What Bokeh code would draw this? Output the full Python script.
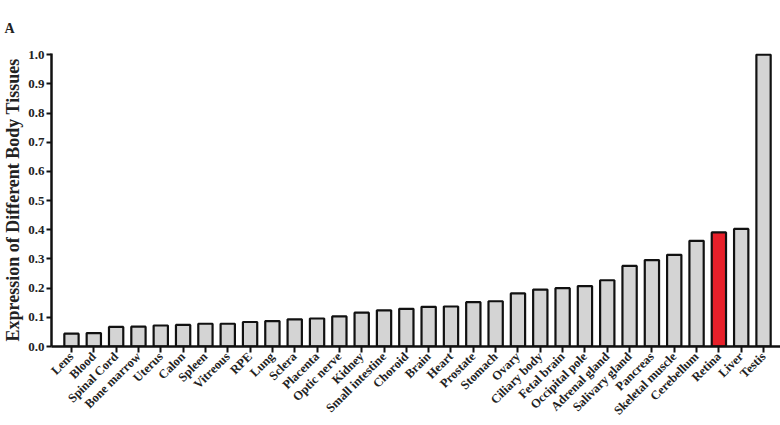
import math
from bokeh.plotting import figure
from bokeh.models import ColumnDataSource, Range1d, FixedTicker
from bokeh.embed import file_html
from bokeh.resources import INLINE

tissues = ["Lens", "Blood", "Spinal Cord", "Bone marrow", "Uterus", "Calon", "Spleen",
           "Vitreous", "RPE", "Lung", "Sclera", "Placenta", "Optic nerve", "Kidney",
           "Small intestine", "Choroid", "Brain", "Heart", "Prostate", "Stomach", "Ovary",
           "Ciliary body", "Fetal brain", "Occipital pole", "Adrenal gland", "Salivary gland",
           "Pancreas", "Skeletal muscle", "Cerebellum", "Retina", "Liver", "Testis"]
expression = [0.044, 0.046, 0.067, 0.068, 0.072, 0.074, 0.078,
              0.078, 0.084, 0.087, 0.093, 0.096, 0.103, 0.116,
              0.124, 0.129, 0.136, 0.137, 0.152, 0.155, 0.182,
              0.195, 0.200, 0.207, 0.227, 0.276,
              0.296, 0.314, 0.362, 0.391, 0.403, 1.0]
highlight = "Retina"
y_ticks = [0.0, 0.1, 0.2, 0.3, 0.4, 0.5, 0.6, 0.7, 0.8, 0.9, 1.0]

FONT = "Liberation Serif"
xs = list(range(len(tissues)))
colors = ["#e8202a" if t == highlight else "#d4d4d4" for t in tissues]
src = ColumnDataSource(dict(x=xs, top=expression, color=colors))

p = figure(width=780, height=425, output_backend="svg", toolbar_location=None,
           title="A",
           x_range=Range1d(-0.895, 31.76), y_range=Range1d(0, 1.004),
           min_border_left=50, min_border_right=0, min_border_top=52, min_border_bottom=78)
p.outline_line_color = None
p.grid.visible = False

p.title.align = "left"
p.title.offset = -47
p.title.standoff = 36
p.title.text_font = FONT
p.title.text_font_style = "bold"
p.title.text_font_size = "14px"
p.title.text_color = "#222222"

p.vbar(x="x", top="top", bottom=0, width=0.64, source=src, fill_color="color",
       line_color="#111111", line_width=2.2)

# x axis
xa = p.xaxis[0]
xa.ticker = FixedTicker(ticks=xs)
xa.major_label_overrides = {i: t for i, t in zip(xs, tissues)}
xa.major_label_orientation = math.pi / 4
xa.major_label_text_font = FONT
xa.major_label_text_font_style = "bold"
xa.major_label_text_font_size = "12.5px"
xa.major_label_text_color = "#222222"
xa.major_label_standoff = 2
xa.axis_line_width = 2.5
xa.axis_line_color = "#111111"
xa.major_tick_line_width = 2
xa.major_tick_line_color = "#111111"
xa.major_tick_in = 0
xa.major_tick_out = 6
xa.minor_tick_line_color = None

# y axis
ya = p.yaxis[0]
ya.ticker = FixedTicker(ticks=y_ticks)
ya.major_label_overrides = {v: f"{v:.1f}" for v in y_ticks}
ya.major_label_text_font = FONT
ya.major_label_text_font_style = "bold"
ya.major_label_text_font_size = "13px"
ya.major_label_text_color = "#222222"
ya.major_label_standoff = 2
ya.axis_line_width = 2.5
ya.axis_line_color = "#111111"
ya.major_tick_line_width = 2
ya.major_tick_line_color = "#111111"
ya.major_tick_in = 0
ya.major_tick_out = 5
ya.minor_tick_line_color = None
ya.axis_label = "Expression of Different Body Tissues"
ya.axis_label_text_font = FONT
ya.axis_label_text_font_style = "bold"
ya.axis_label_text_font_size = "18px"
ya.axis_label_text_color = "#222222"
ya.axis_label_standoff = 2

open("out.html", "w").write(file_html(p, INLINE))
